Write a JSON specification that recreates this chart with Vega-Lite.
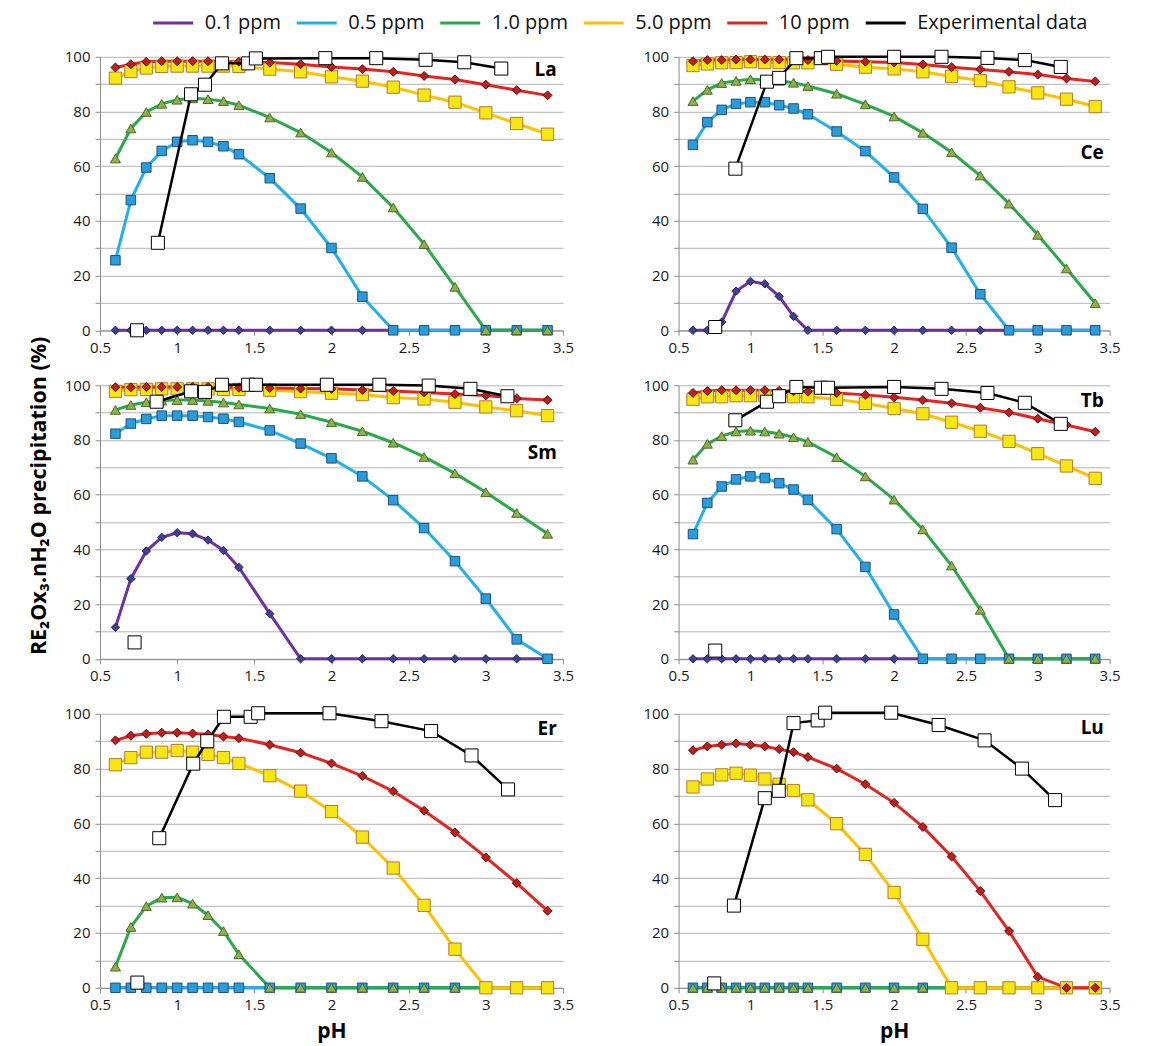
{
"$schema": "https://vega.github.io/schema/vega-lite/v6.json",
"padding": {"left": 28, "top": 9.8, "right": 5, "bottom": 5},
"title": {"text": "RE₂Ox₃.nH₂O precipitation (%)", "orient": "left", "anchor": "middle", "fontSize": 21.5, "fontWeight": "bold", "font": "Open Sans", "color": "#000", "offset": 14, "dx": 30},
"datasets": {
"model": [
{"e":"La","s":"0.1 ppm","x":0.6,"y":0},{"e":"La","s":"0.1 ppm","x":0.7,"y":0},{"e":"La","s":"0.1 ppm","x":0.8,"y":0},{"e":"La","s":"0.1 ppm","x":0.9,"y":0},{"e":"La","s":"0.1 ppm","x":1,"y":0},{"e":"La","s":"0.1 ppm","x":1.1,"y":0},{"e":"La","s":"0.1 ppm","x":1.2,"y":0},{"e":"La","s":"0.1 ppm","x":1.3,"y":0},{"e":"La","s":"0.1 ppm","x":1.4,"y":0},{"e":"La","s":"0.1 ppm","x":1.6,"y":0},{"e":"La","s":"0.1 ppm","x":1.8,"y":0},{"e":"La","s":"0.1 ppm","x":2,"y":0},{"e":"La","s":"0.1 ppm","x":2.2,"y":0},{"e":"La","s":"0.1 ppm","x":2.4,"y":0},{"e":"La","s":"0.1 ppm","x":2.6,"y":0},{"e":"La","s":"0.1 ppm","x":2.8,"y":0},{"e":"La","s":"0.1 ppm","x":3,"y":0},{"e":"La","s":"0.1 ppm","x":3.2,"y":0},{"e":"La","s":"0.1 ppm","x":3.4,"y":0},
{"e":"La","s":"0.5 ppm","x":0.6,"y":25.6},{"e":"La","s":"0.5 ppm","x":0.7,"y":47.6},{"e":"La","s":"0.5 ppm","x":0.8,"y":59.5},{"e":"La","s":"0.5 ppm","x":0.9,"y":65.6},{"e":"La","s":"0.5 ppm","x":1,"y":68.9},{"e":"La","s":"0.5 ppm","x":1.1,"y":69.5},{"e":"La","s":"0.5 ppm","x":1.2,"y":68.9},{"e":"La","s":"0.5 ppm","x":1.3,"y":67.3},{"e":"La","s":"0.5 ppm","x":1.4,"y":64.4},{"e":"La","s":"0.5 ppm","x":1.6,"y":55.6},{"e":"La","s":"0.5 ppm","x":1.8,"y":44.5},{"e":"La","s":"0.5 ppm","x":2,"y":30.1},{"e":"La","s":"0.5 ppm","x":2.2,"y":12.3},{"e":"La","s":"0.5 ppm","x":2.4,"y":0},{"e":"La","s":"0.5 ppm","x":2.6,"y":0},{"e":"La","s":"0.5 ppm","x":2.8,"y":0},{"e":"La","s":"0.5 ppm","x":3,"y":0},{"e":"La","s":"0.5 ppm","x":3.2,"y":0},{"e":"La","s":"0.5 ppm","x":3.4,"y":0},
{"e":"La","s":"1.0 ppm","x":0.6,"y":62.8},{"e":"La","s":"1.0 ppm","x":0.7,"y":73.8},{"e":"La","s":"1.0 ppm","x":0.8,"y":79.8},{"e":"La","s":"1.0 ppm","x":0.9,"y":82.8},{"e":"La","s":"1.0 ppm","x":1,"y":84.3},{"e":"La","s":"1.0 ppm","x":1.1,"y":84.8},{"e":"La","s":"1.0 ppm","x":1.2,"y":84.5},{"e":"La","s":"1.0 ppm","x":1.3,"y":83.8},{"e":"La","s":"1.0 ppm","x":1.4,"y":82.3},{"e":"La","s":"1.0 ppm","x":1.6,"y":77.8},{"e":"La","s":"1.0 ppm","x":1.8,"y":72.3},{"e":"La","s":"1.0 ppm","x":2,"y":65},{"e":"La","s":"1.0 ppm","x":2.2,"y":56.1},{"e":"La","s":"1.0 ppm","x":2.4,"y":44.9},{"e":"La","s":"1.0 ppm","x":2.6,"y":31.5},{"e":"La","s":"1.0 ppm","x":2.8,"y":15.9},{"e":"La","s":"1.0 ppm","x":3,"y":0},{"e":"La","s":"1.0 ppm","x":3.2,"y":0},{"e":"La","s":"1.0 ppm","x":3.4,"y":0},
{"e":"La","s":"5.0 ppm","x":0.6,"y":92.2},{"e":"La","s":"5.0 ppm","x":0.7,"y":94.6},{"e":"La","s":"5.0 ppm","x":0.8,"y":95.9},{"e":"La","s":"5.0 ppm","x":0.9,"y":96.5},{"e":"La","s":"5.0 ppm","x":1,"y":96.6},{"e":"La","s":"5.0 ppm","x":1.1,"y":96.6},{"e":"La","s":"5.0 ppm","x":1.2,"y":96.6},{"e":"La","s":"5.0 ppm","x":1.3,"y":96.6},{"e":"La","s":"5.0 ppm","x":1.4,"y":96.5},{"e":"La","s":"5.0 ppm","x":1.6,"y":95.5},{"e":"La","s":"5.0 ppm","x":1.8,"y":94.5},{"e":"La","s":"5.0 ppm","x":2,"y":92.7},{"e":"La","s":"5.0 ppm","x":2.2,"y":91.1},{"e":"La","s":"5.0 ppm","x":2.4,"y":88.9},{"e":"La","s":"5.0 ppm","x":2.6,"y":86},{"e":"La","s":"5.0 ppm","x":2.8,"y":83.4},{"e":"La","s":"5.0 ppm","x":3,"y":79.5},{"e":"La","s":"5.0 ppm","x":3.2,"y":75.6},{"e":"La","s":"5.0 ppm","x":3.4,"y":71.7},
{"e":"La","s":"10 ppm","x":0.6,"y":96.1},{"e":"La","s":"10 ppm","x":0.7,"y":97.3},{"e":"La","s":"10 ppm","x":0.8,"y":98.2},{"e":"La","s":"10 ppm","x":0.9,"y":98.4},{"e":"La","s":"10 ppm","x":1,"y":98.4},{"e":"La","s":"10 ppm","x":1.1,"y":98.4},{"e":"La","s":"10 ppm","x":1.2,"y":98.4},{"e":"La","s":"10 ppm","x":1.3,"y":98.3},{"e":"La","s":"10 ppm","x":1.4,"y":98.2},{"e":"La","s":"10 ppm","x":1.6,"y":97.9},{"e":"La","s":"10 ppm","x":1.8,"y":97.3},{"e":"La","s":"10 ppm","x":2,"y":96.3},{"e":"La","s":"10 ppm","x":2.2,"y":95.5},{"e":"La","s":"10 ppm","x":2.4,"y":94.5},{"e":"La","s":"10 ppm","x":2.6,"y":93},{"e":"La","s":"10 ppm","x":2.8,"y":91.7},{"e":"La","s":"10 ppm","x":3,"y":89.8},{"e":"La","s":"10 ppm","x":3.2,"y":87.8},{"e":"La","s":"10 ppm","x":3.4,"y":85.9},
{"e":"Ce","s":"0.1 ppm","x":0.6,"y":0},{"e":"Ce","s":"0.1 ppm","x":0.7,"y":0},{"e":"Ce","s":"0.1 ppm","x":0.8,"y":3},{"e":"Ce","s":"0.1 ppm","x":0.9,"y":14.3},{"e":"Ce","s":"0.1 ppm","x":1,"y":17.9},{"e":"Ce","s":"0.1 ppm","x":1.1,"y":17},{"e":"Ce","s":"0.1 ppm","x":1.2,"y":12.4},{"e":"Ce","s":"0.1 ppm","x":1.3,"y":5.1},{"e":"Ce","s":"0.1 ppm","x":1.4,"y":0},{"e":"Ce","s":"0.1 ppm","x":1.6,"y":0},{"e":"Ce","s":"0.1 ppm","x":1.8,"y":0},{"e":"Ce","s":"0.1 ppm","x":2,"y":0},{"e":"Ce","s":"0.1 ppm","x":2.2,"y":0},{"e":"Ce","s":"0.1 ppm","x":2.4,"y":0},{"e":"Ce","s":"0.1 ppm","x":2.6,"y":0},{"e":"Ce","s":"0.1 ppm","x":2.8,"y":0},{"e":"Ce","s":"0.1 ppm","x":3,"y":0},{"e":"Ce","s":"0.1 ppm","x":3.2,"y":0},{"e":"Ce","s":"0.1 ppm","x":3.4,"y":0},
{"e":"Ce","s":"0.5 ppm","x":0.6,"y":67.8},{"e":"Ce","s":"0.5 ppm","x":0.7,"y":76.1},{"e":"Ce","s":"0.5 ppm","x":0.8,"y":80.6},{"e":"Ce","s":"0.5 ppm","x":0.9,"y":82.8},{"e":"Ce","s":"0.5 ppm","x":1,"y":83.4},{"e":"Ce","s":"0.5 ppm","x":1.1,"y":83.4},{"e":"Ce","s":"0.5 ppm","x":1.2,"y":82.3},{"e":"Ce","s":"0.5 ppm","x":1.3,"y":81.1},{"e":"Ce","s":"0.5 ppm","x":1.4,"y":79},{"e":"Ce","s":"0.5 ppm","x":1.6,"y":72.7},{"e":"Ce","s":"0.5 ppm","x":1.8,"y":65.5},{"e":"Ce","s":"0.5 ppm","x":2,"y":55.9},{"e":"Ce","s":"0.5 ppm","x":2.2,"y":44.4},{"e":"Ce","s":"0.5 ppm","x":2.4,"y":30.2},{"e":"Ce","s":"0.5 ppm","x":2.6,"y":13.2},{"e":"Ce","s":"0.5 ppm","x":2.8,"y":0},{"e":"Ce","s":"0.5 ppm","x":3,"y":0},{"e":"Ce","s":"0.5 ppm","x":3.2,"y":0},{"e":"Ce","s":"0.5 ppm","x":3.4,"y":0},
{"e":"Ce","s":"1.0 ppm","x":0.6,"y":83.8},{"e":"Ce","s":"1.0 ppm","x":0.7,"y":87.9},{"e":"Ce","s":"1.0 ppm","x":0.8,"y":90.4},{"e":"Ce","s":"1.0 ppm","x":0.9,"y":91.2},{"e":"Ce","s":"1.0 ppm","x":1,"y":91.8},{"e":"Ce","s":"1.0 ppm","x":1.1,"y":91.5},{"e":"Ce","s":"1.0 ppm","x":1.2,"y":91.2},{"e":"Ce","s":"1.0 ppm","x":1.3,"y":90.5},{"e":"Ce","s":"1.0 ppm","x":1.4,"y":89.3},{"e":"Ce","s":"1.0 ppm","x":1.6,"y":86.5},{"e":"Ce","s":"1.0 ppm","x":1.8,"y":82.6},{"e":"Ce","s":"1.0 ppm","x":2,"y":78.2},{"e":"Ce","s":"1.0 ppm","x":2.2,"y":72.2},{"e":"Ce","s":"1.0 ppm","x":2.4,"y":65.1},{"e":"Ce","s":"1.0 ppm","x":2.6,"y":56.6},{"e":"Ce","s":"1.0 ppm","x":2.8,"y":46.3},{"e":"Ce","s":"1.0 ppm","x":3,"y":34.9},{"e":"Ce","s":"1.0 ppm","x":3.2,"y":22.6},{"e":"Ce","s":"1.0 ppm","x":3.4,"y":9.9},
{"e":"Ce","s":"5.0 ppm","x":0.6,"y":96.8},{"e":"Ce","s":"5.0 ppm","x":0.7,"y":97.4},{"e":"Ce","s":"5.0 ppm","x":0.8,"y":97.8},{"e":"Ce","s":"5.0 ppm","x":0.9,"y":97.9},{"e":"Ce","s":"5.0 ppm","x":1,"y":98.2},{"e":"Ce","s":"5.0 ppm","x":1.1,"y":97.9},{"e":"Ce","s":"5.0 ppm","x":1.2,"y":97.9},{"e":"Ce","s":"5.0 ppm","x":1.3,"y":97.8},{"e":"Ce","s":"5.0 ppm","x":1.4,"y":97.8},{"e":"Ce","s":"5.0 ppm","x":1.6,"y":97.3},{"e":"Ce","s":"5.0 ppm","x":1.8,"y":96.2},{"e":"Ce","s":"5.0 ppm","x":2,"y":95.6},{"e":"Ce","s":"5.0 ppm","x":2.2,"y":94.5},{"e":"Ce","s":"5.0 ppm","x":2.4,"y":92.8},{"e":"Ce","s":"5.0 ppm","x":2.6,"y":91.3},{"e":"Ce","s":"5.0 ppm","x":2.8,"y":89},{"e":"Ce","s":"5.0 ppm","x":3,"y":86.8},{"e":"Ce","s":"5.0 ppm","x":3.2,"y":84.5},{"e":"Ce","s":"5.0 ppm","x":3.4,"y":81.8},
{"e":"Ce","s":"10 ppm","x":0.6,"y":98.4},{"e":"Ce","s":"10 ppm","x":0.7,"y":98.8},{"e":"Ce","s":"10 ppm","x":0.8,"y":98.8},{"e":"Ce","s":"10 ppm","x":0.9,"y":99},{"e":"Ce","s":"10 ppm","x":1,"y":99},{"e":"Ce","s":"10 ppm","x":1.1,"y":99},{"e":"Ce","s":"10 ppm","x":1.2,"y":99},{"e":"Ce","s":"10 ppm","x":1.3,"y":98.9},{"e":"Ce","s":"10 ppm","x":1.4,"y":98.8},{"e":"Ce","s":"10 ppm","x":1.6,"y":98.5},{"e":"Ce","s":"10 ppm","x":1.8,"y":98.2},{"e":"Ce","s":"10 ppm","x":2,"y":97.9},{"e":"Ce","s":"10 ppm","x":2.2,"y":97.2},{"e":"Ce","s":"10 ppm","x":2.4,"y":96.2},{"e":"Ce","s":"10 ppm","x":2.6,"y":95.4},{"e":"Ce","s":"10 ppm","x":2.8,"y":94.5},{"e":"Ce","s":"10 ppm","x":3,"y":93.5},{"e":"Ce","s":"10 ppm","x":3.2,"y":92.1},{"e":"Ce","s":"10 ppm","x":3.4,"y":91},
{"e":"Sm","s":"0.1 ppm","x":0.6,"y":11.5},{"e":"Sm","s":"0.1 ppm","x":0.7,"y":29.3},{"e":"Sm","s":"0.1 ppm","x":0.8,"y":39.4},{"e":"Sm","s":"0.1 ppm","x":0.9,"y":44.4},{"e":"Sm","s":"0.1 ppm","x":1,"y":46.1},{"e":"Sm","s":"0.1 ppm","x":1.1,"y":45.7},{"e":"Sm","s":"0.1 ppm","x":1.2,"y":43.4},{"e":"Sm","s":"0.1 ppm","x":1.3,"y":39.6},{"e":"Sm","s":"0.1 ppm","x":1.4,"y":33.4},{"e":"Sm","s":"0.1 ppm","x":1.6,"y":16.5},{"e":"Sm","s":"0.1 ppm","x":1.8,"y":0},{"e":"Sm","s":"0.1 ppm","x":2,"y":0},{"e":"Sm","s":"0.1 ppm","x":2.2,"y":0},{"e":"Sm","s":"0.1 ppm","x":2.4,"y":0},{"e":"Sm","s":"0.1 ppm","x":2.6,"y":0},{"e":"Sm","s":"0.1 ppm","x":2.8,"y":0},{"e":"Sm","s":"0.1 ppm","x":3,"y":0},{"e":"Sm","s":"0.1 ppm","x":3.2,"y":0},{"e":"Sm","s":"0.1 ppm","x":3.4,"y":0},
{"e":"Sm","s":"0.5 ppm","x":0.6,"y":82.3},{"e":"Sm","s":"0.5 ppm","x":0.7,"y":86},{"e":"Sm","s":"0.5 ppm","x":0.8,"y":87.7},{"e":"Sm","s":"0.5 ppm","x":0.9,"y":88.9},{"e":"Sm","s":"0.5 ppm","x":1,"y":88.9},{"e":"Sm","s":"0.5 ppm","x":1.1,"y":88.9},{"e":"Sm","s":"0.5 ppm","x":1.2,"y":88.4},{"e":"Sm","s":"0.5 ppm","x":1.3,"y":87.8},{"e":"Sm","s":"0.5 ppm","x":1.4,"y":86.6},{"e":"Sm","s":"0.5 ppm","x":1.6,"y":83.5},{"e":"Sm","s":"0.5 ppm","x":1.8,"y":78.7},{"e":"Sm","s":"0.5 ppm","x":2,"y":73.3},{"e":"Sm","s":"0.5 ppm","x":2.2,"y":66.7},{"e":"Sm","s":"0.5 ppm","x":2.4,"y":58},{"e":"Sm","s":"0.5 ppm","x":2.6,"y":47.8},{"e":"Sm","s":"0.5 ppm","x":2.8,"y":35.7},{"e":"Sm","s":"0.5 ppm","x":3,"y":22},{"e":"Sm","s":"0.5 ppm","x":3.2,"y":7.1},{"e":"Sm","s":"0.5 ppm","x":3.4,"y":0},
{"e":"Sm","s":"1.0 ppm","x":0.6,"y":91},{"e":"Sm","s":"1.0 ppm","x":0.7,"y":92.8},{"e":"Sm","s":"1.0 ppm","x":0.8,"y":93.8},{"e":"Sm","s":"1.0 ppm","x":0.9,"y":94.4},{"e":"Sm","s":"1.0 ppm","x":1,"y":94.6},{"e":"Sm","s":"1.0 ppm","x":1.1,"y":94.6},{"e":"Sm","s":"1.0 ppm","x":1.2,"y":94.3},{"e":"Sm","s":"1.0 ppm","x":1.3,"y":93.7},{"e":"Sm","s":"1.0 ppm","x":1.4,"y":93},{"e":"Sm","s":"1.0 ppm","x":1.6,"y":91.5},{"e":"Sm","s":"1.0 ppm","x":1.8,"y":89.4},{"e":"Sm","s":"1.0 ppm","x":2,"y":86.5},{"e":"Sm","s":"1.0 ppm","x":2.2,"y":83.2},{"e":"Sm","s":"1.0 ppm","x":2.4,"y":79},{"e":"Sm","s":"1.0 ppm","x":2.6,"y":73.8},{"e":"Sm","s":"1.0 ppm","x":2.8,"y":67.8},{"e":"Sm","s":"1.0 ppm","x":3,"y":60.9},{"e":"Sm","s":"1.0 ppm","x":3.2,"y":53.3},{"e":"Sm","s":"1.0 ppm","x":3.4,"y":45.7},
{"e":"Sm","s":"5.0 ppm","x":0.6,"y":97.8},{"e":"Sm","s":"5.0 ppm","x":0.7,"y":98.4},{"e":"Sm","s":"5.0 ppm","x":0.8,"y":98.5},{"e":"Sm","s":"5.0 ppm","x":0.9,"y":98.7},{"e":"Sm","s":"5.0 ppm","x":1,"y":98.7},{"e":"Sm","s":"5.0 ppm","x":1.1,"y":98.7},{"e":"Sm","s":"5.0 ppm","x":1.2,"y":98.7},{"e":"Sm","s":"5.0 ppm","x":1.3,"y":98.5},{"e":"Sm","s":"5.0 ppm","x":1.4,"y":98.5},{"e":"Sm","s":"5.0 ppm","x":1.6,"y":98.2},{"e":"Sm","s":"5.0 ppm","x":1.8,"y":97.7},{"e":"Sm","s":"5.0 ppm","x":2,"y":97.1},{"e":"Sm","s":"5.0 ppm","x":2.2,"y":96.6},{"e":"Sm","s":"5.0 ppm","x":2.4,"y":95.5},{"e":"Sm","s":"5.0 ppm","x":2.6,"y":95},{"e":"Sm","s":"5.0 ppm","x":2.8,"y":93.8},{"e":"Sm","s":"5.0 ppm","x":3,"y":92.1},{"e":"Sm","s":"5.0 ppm","x":3.2,"y":90.7},{"e":"Sm","s":"5.0 ppm","x":3.4,"y":88.9},
{"e":"Sm","s":"10 ppm","x":0.6,"y":99.3},{"e":"Sm","s":"10 ppm","x":0.7,"y":99.3},{"e":"Sm","s":"10 ppm","x":0.8,"y":99.4},{"e":"Sm","s":"10 ppm","x":0.9,"y":99.4},{"e":"Sm","s":"10 ppm","x":1,"y":99.4},{"e":"Sm","s":"10 ppm","x":1.1,"y":99.4},{"e":"Sm","s":"10 ppm","x":1.2,"y":99.4},{"e":"Sm","s":"10 ppm","x":1.3,"y":99.3},{"e":"Sm","s":"10 ppm","x":1.4,"y":99.1},{"e":"Sm","s":"10 ppm","x":1.6,"y":99},{"e":"Sm","s":"10 ppm","x":1.8,"y":98.8},{"e":"Sm","s":"10 ppm","x":2,"y":98.7},{"e":"Sm","s":"10 ppm","x":2.2,"y":98.3},{"e":"Sm","s":"10 ppm","x":2.4,"y":97.9},{"e":"Sm","s":"10 ppm","x":2.6,"y":97.4},{"e":"Sm","s":"10 ppm","x":2.8,"y":96.8},{"e":"Sm","s":"10 ppm","x":3,"y":96.3},{"e":"Sm","s":"10 ppm","x":3.2,"y":95.2},{"e":"Sm","s":"10 ppm","x":3.4,"y":94.6},
{"e":"Tb","s":"0.1 ppm","x":0.6,"y":0},{"e":"Tb","s":"0.1 ppm","x":0.7,"y":0},{"e":"Tb","s":"0.1 ppm","x":0.8,"y":0},{"e":"Tb","s":"0.1 ppm","x":0.9,"y":0},{"e":"Tb","s":"0.1 ppm","x":1,"y":0},{"e":"Tb","s":"0.1 ppm","x":1.1,"y":0},{"e":"Tb","s":"0.1 ppm","x":1.2,"y":0},{"e":"Tb","s":"0.1 ppm","x":1.3,"y":0},{"e":"Tb","s":"0.1 ppm","x":1.4,"y":0},{"e":"Tb","s":"0.1 ppm","x":1.6,"y":0},{"e":"Tb","s":"0.1 ppm","x":1.8,"y":0},{"e":"Tb","s":"0.1 ppm","x":2,"y":0},{"e":"Tb","s":"0.1 ppm","x":2.2,"y":0},{"e":"Tb","s":"0.1 ppm","x":2.4,"y":0},{"e":"Tb","s":"0.1 ppm","x":2.6,"y":0},{"e":"Tb","s":"0.1 ppm","x":2.8,"y":0},{"e":"Tb","s":"0.1 ppm","x":3,"y":0},{"e":"Tb","s":"0.1 ppm","x":3.2,"y":0},{"e":"Tb","s":"0.1 ppm","x":3.4,"y":0},
{"e":"Tb","s":"0.5 ppm","x":0.6,"y":45.6},{"e":"Tb","s":"0.5 ppm","x":0.7,"y":57},{"e":"Tb","s":"0.5 ppm","x":0.8,"y":63},{"e":"Tb","s":"0.5 ppm","x":0.9,"y":65.6},{"e":"Tb","s":"0.5 ppm","x":1,"y":66.7},{"e":"Tb","s":"0.5 ppm","x":1.1,"y":66.1},{"e":"Tb","s":"0.5 ppm","x":1.2,"y":64.2},{"e":"Tb","s":"0.5 ppm","x":1.3,"y":61.9},{"e":"Tb","s":"0.5 ppm","x":1.4,"y":58.1},{"e":"Tb","s":"0.5 ppm","x":1.6,"y":47.4},{"e":"Tb","s":"0.5 ppm","x":1.8,"y":33.6},{"e":"Tb","s":"0.5 ppm","x":2,"y":16.2},{"e":"Tb","s":"0.5 ppm","x":2.2,"y":0},{"e":"Tb","s":"0.5 ppm","x":2.4,"y":0},{"e":"Tb","s":"0.5 ppm","x":2.6,"y":0},{"e":"Tb","s":"0.5 ppm","x":2.8,"y":0},{"e":"Tb","s":"0.5 ppm","x":3,"y":0},{"e":"Tb","s":"0.5 ppm","x":3.2,"y":0},{"e":"Tb","s":"0.5 ppm","x":3.4,"y":0},
{"e":"Tb","s":"1.0 ppm","x":0.6,"y":72.8},{"e":"Tb","s":"1.0 ppm","x":0.7,"y":78.6},{"e":"Tb","s":"1.0 ppm","x":0.8,"y":81.4},{"e":"Tb","s":"1.0 ppm","x":0.9,"y":83.1},{"e":"Tb","s":"1.0 ppm","x":1,"y":83.4},{"e":"Tb","s":"1.0 ppm","x":1.1,"y":83.1},{"e":"Tb","s":"1.0 ppm","x":1.2,"y":82.3},{"e":"Tb","s":"1.0 ppm","x":1.3,"y":81},{"e":"Tb","s":"1.0 ppm","x":1.4,"y":79.3},{"e":"Tb","s":"1.0 ppm","x":1.6,"y":73.7},{"e":"Tb","s":"1.0 ppm","x":1.8,"y":66.7},{"e":"Tb","s":"1.0 ppm","x":2,"y":58.2},{"e":"Tb","s":"1.0 ppm","x":2.2,"y":47.3},{"e":"Tb","s":"1.0 ppm","x":2.4,"y":34.1},{"e":"Tb","s":"1.0 ppm","x":2.6,"y":17.9},{"e":"Tb","s":"1.0 ppm","x":2.8,"y":0},{"e":"Tb","s":"1.0 ppm","x":3,"y":0},{"e":"Tb","s":"1.0 ppm","x":3.2,"y":0},{"e":"Tb","s":"1.0 ppm","x":3.4,"y":0},
{"e":"Tb","s":"5.0 ppm","x":0.6,"y":94.9},{"e":"Tb","s":"5.0 ppm","x":0.7,"y":95.8},{"e":"Tb","s":"5.0 ppm","x":0.8,"y":95.8},{"e":"Tb","s":"5.0 ppm","x":0.9,"y":96.2},{"e":"Tb","s":"5.0 ppm","x":1,"y":96.2},{"e":"Tb","s":"5.0 ppm","x":1.1,"y":96.2},{"e":"Tb","s":"5.0 ppm","x":1.2,"y":95.9},{"e":"Tb","s":"5.0 ppm","x":1.3,"y":95.8},{"e":"Tb","s":"5.0 ppm","x":1.4,"y":95.8},{"e":"Tb","s":"5.0 ppm","x":1.6,"y":94.9},{"e":"Tb","s":"5.0 ppm","x":1.8,"y":93.4},{"e":"Tb","s":"5.0 ppm","x":2,"y":91.5},{"e":"Tb","s":"5.0 ppm","x":2.2,"y":89.6},{"e":"Tb","s":"5.0 ppm","x":2.4,"y":86.5},{"e":"Tb","s":"5.0 ppm","x":2.6,"y":83.2},{"e":"Tb","s":"5.0 ppm","x":2.8,"y":79.5},{"e":"Tb","s":"5.0 ppm","x":3,"y":75},{"e":"Tb","s":"5.0 ppm","x":3.2,"y":70.5},{"e":"Tb","s":"5.0 ppm","x":3.4,"y":66},
{"e":"Tb","s":"10 ppm","x":0.6,"y":97.2},{"e":"Tb","s":"10 ppm","x":0.7,"y":97.9},{"e":"Tb","s":"10 ppm","x":0.8,"y":98.2},{"e":"Tb","s":"10 ppm","x":0.9,"y":98.2},{"e":"Tb","s":"10 ppm","x":1,"y":98.2},{"e":"Tb","s":"10 ppm","x":1.1,"y":98.2},{"e":"Tb","s":"10 ppm","x":1.2,"y":98},{"e":"Tb","s":"10 ppm","x":1.3,"y":97.8},{"e":"Tb","s":"10 ppm","x":1.4,"y":97.7},{"e":"Tb","s":"10 ppm","x":1.6,"y":97.2},{"e":"Tb","s":"10 ppm","x":1.8,"y":96.5},{"e":"Tb","s":"10 ppm","x":2,"y":95.6},{"e":"Tb","s":"10 ppm","x":2.2,"y":94.6},{"e":"Tb","s":"10 ppm","x":2.4,"y":93.4},{"e":"Tb","s":"10 ppm","x":2.6,"y":91.8},{"e":"Tb","s":"10 ppm","x":2.8,"y":90.1},{"e":"Tb","s":"10 ppm","x":3,"y":87.8},{"e":"Tb","s":"10 ppm","x":3.2,"y":85.5},{"e":"Tb","s":"10 ppm","x":3.4,"y":83},
{"e":"Er","s":"0.1 ppm","x":0.6,"y":0},{"e":"Er","s":"0.1 ppm","x":0.7,"y":0},{"e":"Er","s":"0.1 ppm","x":0.8,"y":0},{"e":"Er","s":"0.1 ppm","x":0.9,"y":0},{"e":"Er","s":"0.1 ppm","x":1,"y":0},{"e":"Er","s":"0.1 ppm","x":1.1,"y":0},{"e":"Er","s":"0.1 ppm","x":1.2,"y":0},{"e":"Er","s":"0.1 ppm","x":1.3,"y":0},{"e":"Er","s":"0.1 ppm","x":1.4,"y":0},{"e":"Er","s":"0.1 ppm","x":1.6,"y":0},{"e":"Er","s":"0.1 ppm","x":1.8,"y":0},{"e":"Er","s":"0.1 ppm","x":2,"y":0},{"e":"Er","s":"0.1 ppm","x":2.2,"y":0},{"e":"Er","s":"0.1 ppm","x":2.4,"y":0},{"e":"Er","s":"0.1 ppm","x":2.6,"y":0},{"e":"Er","s":"0.1 ppm","x":2.8,"y":0},{"e":"Er","s":"0.1 ppm","x":3,"y":0},{"e":"Er","s":"0.1 ppm","x":3.2,"y":0},{"e":"Er","s":"0.1 ppm","x":3.4,"y":0},
{"e":"Er","s":"0.5 ppm","x":0.6,"y":0},{"e":"Er","s":"0.5 ppm","x":0.7,"y":0},{"e":"Er","s":"0.5 ppm","x":0.8,"y":0},{"e":"Er","s":"0.5 ppm","x":0.9,"y":0},{"e":"Er","s":"0.5 ppm","x":1,"y":0},{"e":"Er","s":"0.5 ppm","x":1.1,"y":0},{"e":"Er","s":"0.5 ppm","x":1.2,"y":0},{"e":"Er","s":"0.5 ppm","x":1.3,"y":0},{"e":"Er","s":"0.5 ppm","x":1.4,"y":0},{"e":"Er","s":"0.5 ppm","x":1.6,"y":0},{"e":"Er","s":"0.5 ppm","x":1.8,"y":0},{"e":"Er","s":"0.5 ppm","x":2,"y":0},{"e":"Er","s":"0.5 ppm","x":2.2,"y":0},{"e":"Er","s":"0.5 ppm","x":2.4,"y":0},{"e":"Er","s":"0.5 ppm","x":2.6,"y":0},{"e":"Er","s":"0.5 ppm","x":2.8,"y":0},{"e":"Er","s":"0.5 ppm","x":3,"y":0},{"e":"Er","s":"0.5 ppm","x":3.2,"y":0},{"e":"Er","s":"0.5 ppm","x":3.4,"y":0},
{"e":"Er","s":"1.0 ppm","x":0.6,"y":7.7},{"e":"Er","s":"1.0 ppm","x":0.7,"y":22.2},{"e":"Er","s":"1.0 ppm","x":0.8,"y":29.8},{"e":"Er","s":"1.0 ppm","x":0.9,"y":32.9},{"e":"Er","s":"1.0 ppm","x":1,"y":33},{"e":"Er","s":"1.0 ppm","x":1.1,"y":30.7},{"e":"Er","s":"1.0 ppm","x":1.2,"y":26.5},{"e":"Er","s":"1.0 ppm","x":1.3,"y":20.7},{"e":"Er","s":"1.0 ppm","x":1.4,"y":12.2},{"e":"Er","s":"1.0 ppm","x":1.6,"y":0},{"e":"Er","s":"1.0 ppm","x":1.8,"y":0},{"e":"Er","s":"1.0 ppm","x":2,"y":0},{"e":"Er","s":"1.0 ppm","x":2.2,"y":0},{"e":"Er","s":"1.0 ppm","x":2.4,"y":0},{"e":"Er","s":"1.0 ppm","x":2.6,"y":0},{"e":"Er","s":"1.0 ppm","x":2.8,"y":0},{"e":"Er","s":"1.0 ppm","x":3,"y":0},{"e":"Er","s":"1.0 ppm","x":3.2,"y":0},{"e":"Er","s":"1.0 ppm","x":3.4,"y":0},
{"e":"Er","s":"5.0 ppm","x":0.6,"y":81.4},{"e":"Er","s":"5.0 ppm","x":0.7,"y":84},{"e":"Er","s":"5.0 ppm","x":0.8,"y":86},{"e":"Er","s":"5.0 ppm","x":0.9,"y":86},{"e":"Er","s":"5.0 ppm","x":1,"y":86.6},{"e":"Er","s":"5.0 ppm","x":1.1,"y":86},{"e":"Er","s":"5.0 ppm","x":1.2,"y":85.2},{"e":"Er","s":"5.0 ppm","x":1.3,"y":84},{"e":"Er","s":"5.0 ppm","x":1.4,"y":81.9},{"e":"Er","s":"5.0 ppm","x":1.6,"y":77.4},{"e":"Er","s":"5.0 ppm","x":1.8,"y":71.8},{"e":"Er","s":"5.0 ppm","x":2,"y":64.3},{"e":"Er","s":"5.0 ppm","x":2.2,"y":55},{"e":"Er","s":"5.0 ppm","x":2.4,"y":43.7},{"e":"Er","s":"5.0 ppm","x":2.6,"y":30.1},{"e":"Er","s":"5.0 ppm","x":2.8,"y":14.1},{"e":"Er","s":"5.0 ppm","x":3,"y":0},{"e":"Er","s":"5.0 ppm","x":3.2,"y":0},{"e":"Er","s":"5.0 ppm","x":3.4,"y":0},
{"e":"Er","s":"10 ppm","x":0.6,"y":90.3},{"e":"Er","s":"10 ppm","x":0.7,"y":92},{"e":"Er","s":"10 ppm","x":0.8,"y":92.7},{"e":"Er","s":"10 ppm","x":0.9,"y":93.1},{"e":"Er","s":"10 ppm","x":1,"y":93.1},{"e":"Er","s":"10 ppm","x":1.1,"y":92.8},{"e":"Er","s":"10 ppm","x":1.2,"y":92.5},{"e":"Er","s":"10 ppm","x":1.3,"y":91.7},{"e":"Er","s":"10 ppm","x":1.4,"y":91.1},{"e":"Er","s":"10 ppm","x":1.6,"y":88.7},{"e":"Er","s":"10 ppm","x":1.8,"y":85.8},{"e":"Er","s":"10 ppm","x":2,"y":81.9},{"e":"Er","s":"10 ppm","x":2.2,"y":77.3},{"e":"Er","s":"10 ppm","x":2.4,"y":71.7},{"e":"Er","s":"10 ppm","x":2.6,"y":64.6},{"e":"Er","s":"10 ppm","x":2.8,"y":56.7},{"e":"Er","s":"10 ppm","x":3,"y":47.6},{"e":"Er","s":"10 ppm","x":3.2,"y":38.2},{"e":"Er","s":"10 ppm","x":3.4,"y":28.1},
{"e":"Lu","s":"0.1 ppm","x":0.6,"y":0},{"e":"Lu","s":"0.1 ppm","x":0.7,"y":0},{"e":"Lu","s":"0.1 ppm","x":0.8,"y":0},{"e":"Lu","s":"0.1 ppm","x":0.9,"y":0},{"e":"Lu","s":"0.1 ppm","x":1,"y":0},{"e":"Lu","s":"0.1 ppm","x":1.1,"y":0},{"e":"Lu","s":"0.1 ppm","x":1.2,"y":0},{"e":"Lu","s":"0.1 ppm","x":1.3,"y":0},{"e":"Lu","s":"0.1 ppm","x":1.4,"y":0},{"e":"Lu","s":"0.1 ppm","x":1.6,"y":0},{"e":"Lu","s":"0.1 ppm","x":1.8,"y":0},{"e":"Lu","s":"0.1 ppm","x":2,"y":0},{"e":"Lu","s":"0.1 ppm","x":2.2,"y":0},{"e":"Lu","s":"0.1 ppm","x":2.4,"y":0},{"e":"Lu","s":"0.1 ppm","x":2.6,"y":0},{"e":"Lu","s":"0.1 ppm","x":2.8,"y":0},{"e":"Lu","s":"0.1 ppm","x":3,"y":0},{"e":"Lu","s":"0.1 ppm","x":3.2,"y":0},{"e":"Lu","s":"0.1 ppm","x":3.4,"y":0},
{"e":"Lu","s":"0.5 ppm","x":0.6,"y":0},{"e":"Lu","s":"0.5 ppm","x":0.7,"y":0},{"e":"Lu","s":"0.5 ppm","x":0.8,"y":0},{"e":"Lu","s":"0.5 ppm","x":0.9,"y":0},{"e":"Lu","s":"0.5 ppm","x":1,"y":0},{"e":"Lu","s":"0.5 ppm","x":1.1,"y":0},{"e":"Lu","s":"0.5 ppm","x":1.2,"y":0},{"e":"Lu","s":"0.5 ppm","x":1.3,"y":0},{"e":"Lu","s":"0.5 ppm","x":1.4,"y":0},{"e":"Lu","s":"0.5 ppm","x":1.6,"y":0},{"e":"Lu","s":"0.5 ppm","x":1.8,"y":0},{"e":"Lu","s":"0.5 ppm","x":2,"y":0},{"e":"Lu","s":"0.5 ppm","x":2.2,"y":0},{"e":"Lu","s":"0.5 ppm","x":2.4,"y":0},{"e":"Lu","s":"0.5 ppm","x":2.6,"y":0},{"e":"Lu","s":"0.5 ppm","x":2.8,"y":0},{"e":"Lu","s":"0.5 ppm","x":3,"y":0},{"e":"Lu","s":"0.5 ppm","x":3.2,"y":0},{"e":"Lu","s":"0.5 ppm","x":3.4,"y":0},
{"e":"Lu","s":"1.0 ppm","x":0.6,"y":0},{"e":"Lu","s":"1.0 ppm","x":0.7,"y":0},{"e":"Lu","s":"1.0 ppm","x":0.8,"y":0},{"e":"Lu","s":"1.0 ppm","x":0.9,"y":0},{"e":"Lu","s":"1.0 ppm","x":1,"y":0},{"e":"Lu","s":"1.0 ppm","x":1.1,"y":0},{"e":"Lu","s":"1.0 ppm","x":1.2,"y":0},{"e":"Lu","s":"1.0 ppm","x":1.3,"y":0},{"e":"Lu","s":"1.0 ppm","x":1.4,"y":0},{"e":"Lu","s":"1.0 ppm","x":1.6,"y":0},{"e":"Lu","s":"1.0 ppm","x":1.8,"y":0},{"e":"Lu","s":"1.0 ppm","x":2,"y":0},{"e":"Lu","s":"1.0 ppm","x":2.2,"y":0},{"e":"Lu","s":"1.0 ppm","x":2.4,"y":0},{"e":"Lu","s":"1.0 ppm","x":2.6,"y":0},{"e":"Lu","s":"1.0 ppm","x":2.8,"y":0},{"e":"Lu","s":"1.0 ppm","x":3,"y":0},{"e":"Lu","s":"1.0 ppm","x":3.2,"y":0},{"e":"Lu","s":"1.0 ppm","x":3.4,"y":0},
{"e":"Lu","s":"5.0 ppm","x":0.6,"y":73.3},{"e":"Lu","s":"5.0 ppm","x":0.7,"y":76.2},{"e":"Lu","s":"5.0 ppm","x":0.8,"y":77.7},{"e":"Lu","s":"5.0 ppm","x":0.9,"y":78.3},{"e":"Lu","s":"5.0 ppm","x":1,"y":77.6},{"e":"Lu","s":"5.0 ppm","x":1.1,"y":76.2},{"e":"Lu","s":"5.0 ppm","x":1.2,"y":74.3},{"e":"Lu","s":"5.0 ppm","x":1.3,"y":72},{"e":"Lu","s":"5.0 ppm","x":1.4,"y":68.6},{"e":"Lu","s":"5.0 ppm","x":1.6,"y":59.9},{"e":"Lu","s":"5.0 ppm","x":1.8,"y":48.7},{"e":"Lu","s":"5.0 ppm","x":2,"y":34.8},{"e":"Lu","s":"5.0 ppm","x":2.2,"y":17.7},{"e":"Lu","s":"5.0 ppm","x":2.4,"y":0},{"e":"Lu","s":"5.0 ppm","x":2.6,"y":0},{"e":"Lu","s":"5.0 ppm","x":2.8,"y":0},{"e":"Lu","s":"5.0 ppm","x":3,"y":0},{"e":"Lu","s":"5.0 ppm","x":3.2,"y":0},{"e":"Lu","s":"5.0 ppm","x":3.4,"y":0},
{"e":"Lu","s":"10 ppm","x":0.6,"y":86.7},{"e":"Lu","s":"10 ppm","x":0.7,"y":88.1},{"e":"Lu","s":"10 ppm","x":0.8,"y":88.7},{"e":"Lu","s":"10 ppm","x":0.9,"y":89.2},{"e":"Lu","s":"10 ppm","x":1,"y":88.7},{"e":"Lu","s":"10 ppm","x":1.1,"y":88.1},{"e":"Lu","s":"10 ppm","x":1.2,"y":87.1},{"e":"Lu","s":"10 ppm","x":1.3,"y":86},{"e":"Lu","s":"10 ppm","x":1.4,"y":84.2},{"e":"Lu","s":"10 ppm","x":1.6,"y":80},{"e":"Lu","s":"10 ppm","x":1.8,"y":74.3},{"e":"Lu","s":"10 ppm","x":2,"y":67.5},{"e":"Lu","s":"10 ppm","x":2.2,"y":58.7},{"e":"Lu","s":"10 ppm","x":2.4,"y":47.9},{"e":"Lu","s":"10 ppm","x":2.6,"y":35.3},{"e":"Lu","s":"10 ppm","x":2.8,"y":20.7},{"e":"Lu","s":"10 ppm","x":3,"y":4},{"e":"Lu","s":"10 ppm","x":3.2,"y":0},{"e":"Lu","s":"10 ppm","x":3.4,"y":0}
],
"exp": [
{"e":"La","s":"Experimental data","g":1,"x":0.74,"y":0},{"e":"La","s":"Experimental data","g":2,"x":0.875,"y":32},{"e":"La","s":"Experimental data","g":2,"x":1.09,"y":86.3},{"e":"La","s":"Experimental data","g":2,"x":1.18,"y":89.8},{"e":"La","s":"Experimental data","g":2,"x":1.29,"y":97.6},{"e":"La","s":"Experimental data","g":2,"x":1.46,"y":97.6},{"e":"La","s":"Experimental data","g":2,"x":1.51,"y":99.4},{"e":"La","s":"Experimental data","g":2,"x":1.96,"y":99.5},{"e":"La","s":"Experimental data","g":2,"x":2.29,"y":99.5},{"e":"La","s":"Experimental data","g":2,"x":2.61,"y":98.9},{"e":"La","s":"Experimental data","g":2,"x":2.86,"y":98},{"e":"La","s":"Experimental data","g":2,"x":3.1,"y":95.7},
{"e":"Ce","s":"Experimental data","g":1,"x":0.755,"y":1.2},{"e":"Ce","s":"Experimental data","g":2,"x":0.895,"y":59.1},{"e":"Ce","s":"Experimental data","g":2,"x":1.115,"y":90.9},{"e":"Ce","s":"Experimental data","g":2,"x":1.2,"y":92.3},{"e":"Ce","s":"Experimental data","g":2,"x":1.32,"y":99.5},{"e":"Ce","s":"Experimental data","g":2,"x":1.49,"y":99.5},{"e":"Ce","s":"Experimental data","g":2,"x":1.54,"y":100},{"e":"Ce","s":"Experimental data","g":2,"x":2,"y":100},{"e":"Ce","s":"Experimental data","g":2,"x":2.33,"y":100},{"e":"Ce","s":"Experimental data","g":2,"x":2.65,"y":99.6},{"e":"Ce","s":"Experimental data","g":2,"x":2.91,"y":98.8},{"e":"Ce","s":"Experimental data","g":2,"x":3.16,"y":96.3},
{"e":"Sm","s":"Experimental data","g":1,"x":0.724,"y":6},{"e":"Sm","s":"Experimental data","g":2,"x":0.867,"y":94},{"e":"Sm","s":"Experimental data","g":2,"x":1.09,"y":97.8},{"e":"Sm","s":"Experimental data","g":2,"x":1.18,"y":97.6},{"e":"Sm","s":"Experimental data","g":2,"x":1.29,"y":100.2},{"e":"Sm","s":"Experimental data","g":2,"x":1.46,"y":100.2},{"e":"Sm","s":"Experimental data","g":2,"x":1.51,"y":100.2},{"e":"Sm","s":"Experimental data","g":2,"x":1.97,"y":100.2},{"e":"Sm","s":"Experimental data","g":2,"x":2.31,"y":100.2},{"e":"Sm","s":"Experimental data","g":2,"x":2.63,"y":99.9},{"e":"Sm","s":"Experimental data","g":2,"x":2.9,"y":98.7},{"e":"Sm","s":"Experimental data","g":2,"x":3.14,"y":96},
{"e":"Tb","s":"Experimental data","g":1,"x":0.755,"y":3},{"e":"Tb","s":"Experimental data","g":2,"x":0.895,"y":87.2},{"e":"Tb","s":"Experimental data","g":2,"x":1.115,"y":94},{"e":"Tb","s":"Experimental data","g":2,"x":1.2,"y":96},{"e":"Tb","s":"Experimental data","g":2,"x":1.32,"y":99.4},{"e":"Tb","s":"Experimental data","g":2,"x":1.49,"y":99.1},{"e":"Tb","s":"Experimental data","g":2,"x":1.54,"y":99.1},{"e":"Tb","s":"Experimental data","g":2,"x":2,"y":99.4},{"e":"Tb","s":"Experimental data","g":2,"x":2.33,"y":98.7},{"e":"Tb","s":"Experimental data","g":2,"x":2.65,"y":97.2},{"e":"Tb","s":"Experimental data","g":2,"x":2.91,"y":93.6},{"e":"Tb","s":"Experimental data","g":2,"x":3.16,"y":85.9},
{"e":"Er","s":"Experimental data","g":1,"x":0.742,"y":1.9},{"e":"Er","s":"Experimental data","g":2,"x":0.884,"y":54.6},{"e":"Er","s":"Experimental data","g":2,"x":1.104,"y":81.8},{"e":"Er","s":"Experimental data","g":2,"x":1.195,"y":90},{"e":"Er","s":"Experimental data","g":2,"x":1.303,"y":98.9},{"e":"Er","s":"Experimental data","g":2,"x":1.476,"y":98.9},{"e":"Er","s":"Experimental data","g":2,"x":1.525,"y":100.2},{"e":"Er","s":"Experimental data","g":2,"x":1.987,"y":100.2},{"e":"Er","s":"Experimental data","g":2,"x":2.324,"y":97.3},{"e":"Er","s":"Experimental data","g":2,"x":2.645,"y":93.7},{"e":"Er","s":"Experimental data","g":2,"x":2.907,"y":84.8},{"e":"Er","s":"Experimental data","g":2,"x":3.144,"y":72.4},
{"e":"Lu","s":"Experimental data","g":1,"x":0.748,"y":1.6},{"e":"Lu","s":"Experimental data","g":2,"x":0.885,"y":30},{"e":"Lu","s":"Experimental data","g":2,"x":1.1,"y":69.2},{"e":"Lu","s":"Experimental data","g":2,"x":1.197,"y":71.9},{"e":"Lu","s":"Experimental data","g":2,"x":1.3,"y":96.6},{"e":"Lu","s":"Experimental data","g":2,"x":1.468,"y":97.6},{"e":"Lu","s":"Experimental data","g":2,"x":1.52,"y":100.4},{"e":"Lu","s":"Experimental data","g":2,"x":1.98,"y":100.4},{"e":"Lu","s":"Experimental data","g":2,"x":2.31,"y":95.9},{"e":"Lu","s":"Experimental data","g":2,"x":2.63,"y":90.3},{"e":"Lu","s":"Experimental data","g":2,"x":2.89,"y":80},{"e":"Lu","s":"Experimental data","g":2,"x":3.12,"y":68.5}
],
"lab": [
{"e":"La","x":3.46,"y":95},{"e":"Ce","x":3.46,"y":64.8},{"e":"Sm","x":3.46,"y":75.2},{"e":"Tb","x":3.46,"y":94.3},{"e":"Er","x":3.46,"y":94.5},{"e":"Lu","x":3.46,"y":94.7}
]
},
"columns": 2,
"bounds": "flush",
"align": "each",
"spacing": {"row": 54.5, "column": 115.6},
"concat": [
{"width": 463, "height": 273.5,
 "encoding": {"x": {"field":"x","type":"quantitative","scale":{"domain":[0.5,3.5],"nice":false,"zero":false},"axis":{"values":[0.5,1,1.5,2,2.5,3,3.5],"format":"~g","title":null}},
  "y": {"field":"y","type":"quantitative","scale":{"domain":[0,100],"nice":false},"axis":{"values":[0,10,20,30,40,50,60,70,80,90,100],"labelExpr":"datum.value % 20 === 0 ? datum.label : ''","title":null}}},
 "layer": [
  {"data":{"name":"model"},"transform":[{"filter":"datum.e === 'La'"}],"mark":{"type":"line","strokeWidth":3},
   "encoding":{"color":{"field":"s","type":"nominal","scale":{"domain":["0.1 ppm","0.5 ppm","1.0 ppm","5.0 ppm","10 ppm","Experimental data","-"],"range":["#7030A0","#22B0EA","#2BA84A","#FFC000","#E52421","#000000","#999999"]},
     "legend":{"values":["0.1 ppm","0.5 ppm","1.0 ppm","5.0 ppm","10 ppm","Experimental data"],"orient":"none","legendX":51.7,"legendY":-46.8,"direction":"horizontal","columns":6,"title":null,"symbolType":"stroke","symbolSize":1600,"symbolStrokeWidth":3,"labelFontSize":20,"labelOffset":10,"columnPadding":13.5,"clipHeight":26,"padding":0,"labelColor":"#111","labelLimit":300}}}},
  {"data":{"name":"model"},"transform":[{"filter":"datum.e === 'La'"}],"mark":{"type":"point","filled":true,"opacity":1,"strokeWidth":1},
   "encoding":{
    "fill":{"field":"s","type":"nominal","scale":{"domain":["0.1 ppm","0.5 ppm","1.0 ppm","5.0 ppm","10 ppm","Experimental data"],"range":["#3F3F93","#2A9CDA","#8CB04C","#F5E614","#BE1E1E","#FFFFFF"]},"legend":null},
    "stroke":{"field":"s","type":"nominal","scale":{"domain":["0.1 ppm","0.5 ppm","1.0 ppm","5.0 ppm","10 ppm","Experimental data","~~"],"range":["#26265E","#1F4F7F","#4E6A24","#B8772F","#5C0B0B","#000000","#000000"]},"legend":null},
    "shape":{"field":"s","type":"nominal","scale":{"domain":["0.1 ppm","0.5 ppm","1.0 ppm","5.0 ppm","10 ppm","Experimental data","~"],"range":["diamond","square","triangle-up","square","diamond","square","circle"]},"legend":null},
    "size":{"field":"s","type":"nominal","scale":{"type":"ordinal","domain":["0.1 ppm","0.5 ppm","1.0 ppm","5.0 ppm","10 ppm","Experimental data","--"],"range":[70,90,100,150,80,170,10]},"legend":null}}},
  {"data":{"name":"exp"},"transform":[{"filter":"datum.e === 'La'"}],"mark":{"type":"line","strokeWidth":2.5},
   "encoding":{"color":{"field":"s","type":"nominal","scale":{"domain":["0.1 ppm","0.5 ppm","1.0 ppm","5.0 ppm","10 ppm","Experimental data","-"],"range":["#7030A0","#22B0EA","#2BA84A","#FFC000","#E52421","#000000","#999999"]}},"detail":{"field":"g"}}},
  {"data":{"name":"exp"},"transform":[{"filter":"datum.e === 'La'"}],"mark":{"type":"point","filled":true,"opacity":1,"strokeWidth":1},
   "encoding":{"fill":{"field":"s","type":"nominal","scale":{"domain":["0.1 ppm","0.5 ppm","1.0 ppm","5.0 ppm","10 ppm","Experimental data"],"range":["#3F3F93","#2A9CDA","#8CB04C","#F5E614","#BE1E1E","#FFFFFF"]},"legend":null},
    "stroke":{"field":"s","type":"nominal","scale":{"domain":["0.1 ppm","0.5 ppm","1.0 ppm","5.0 ppm","10 ppm","Experimental data","~~"],"range":["#26265E","#1F4F7F","#4E6A24","#B8772F","#5C0B0B","#000000","#000000"]},"legend":null},
    "shape":{"field":"s","type":"nominal","scale":{"domain":["0.1 ppm","0.5 ppm","1.0 ppm","5.0 ppm","10 ppm","Experimental data","~"],"range":["diamond","square","triangle-up","square","diamond","square","circle"]},"legend":null},
    "size":{"field":"s","type":"nominal","scale":{"type":"ordinal","domain":["0.1 ppm","0.5 ppm","1.0 ppm","5.0 ppm","10 ppm","Experimental data","--"],"range":[70,90,100,150,80,170,10]},"legend":null}}},
  {"data":{"name":"lab"},"transform":[{"filter":"datum.e === 'La'"}],"mark":{"type":"text","align":"right","baseline":"middle","fontSize":19,"fontWeight":"bold","color":"#000"},"encoding":{"text":{"field":"e"}}}
 ]},
{"width": 431, "height": 273.5,
 "encoding": {"x": {"field":"x","type":"quantitative","scale":{"domain":[0.5,3.5],"nice":false,"zero":false},"axis":{"values":[0.5,1,1.5,2,2.5,3,3.5],"format":"~g","title":null}},
  "y": {"field":"y","type":"quantitative","scale":{"domain":[0,100],"nice":false},"axis":{"values":[0,10,20,30,40,50,60,70,80,90,100],"labelExpr":"datum.value % 20 === 0 ? datum.label : ''","title":null}}},
 "layer": [
  {"data":{"name":"model"},"transform":[{"filter":"datum.e === 'Ce'"}],"mark":{"type":"line","strokeWidth":3},
   "encoding":{"color":{"field":"s","type":"nominal","scale":{"domain":["0.1 ppm","0.5 ppm","1.0 ppm","5.0 ppm","10 ppm","Experimental data","-"],"range":["#7030A0","#22B0EA","#2BA84A","#FFC000","#E52421","#000000","#999999"]}}}},
  {"data":{"name":"model"},"transform":[{"filter":"datum.e === 'Ce'"}],"mark":{"type":"point","filled":true,"opacity":1,"strokeWidth":1},
   "encoding":{"fill":{"field":"s","type":"nominal","scale":{"domain":["0.1 ppm","0.5 ppm","1.0 ppm","5.0 ppm","10 ppm","Experimental data"],"range":["#3F3F93","#2A9CDA","#8CB04C","#F5E614","#BE1E1E","#FFFFFF"]},"legend":null},
    "stroke":{"field":"s","type":"nominal","scale":{"domain":["0.1 ppm","0.5 ppm","1.0 ppm","5.0 ppm","10 ppm","Experimental data","~~"],"range":["#26265E","#1F4F7F","#4E6A24","#B8772F","#5C0B0B","#000000","#000000"]},"legend":null},
    "shape":{"field":"s","type":"nominal","scale":{"domain":["0.1 ppm","0.5 ppm","1.0 ppm","5.0 ppm","10 ppm","Experimental data","~"],"range":["diamond","square","triangle-up","square","diamond","square","circle"]},"legend":null},
    "size":{"field":"s","type":"nominal","scale":{"type":"ordinal","domain":["0.1 ppm","0.5 ppm","1.0 ppm","5.0 ppm","10 ppm","Experimental data","--"],"range":[70,90,100,150,80,170,10]},"legend":null}}},
  {"data":{"name":"exp"},"transform":[{"filter":"datum.e === 'Ce'"}],"mark":{"type":"line","strokeWidth":2.5},
   "encoding":{"color":{"field":"s","type":"nominal","scale":{"domain":["0.1 ppm","0.5 ppm","1.0 ppm","5.0 ppm","10 ppm","Experimental data","-"],"range":["#7030A0","#22B0EA","#2BA84A","#FFC000","#E52421","#000000","#999999"]}},"detail":{"field":"g"}}},
  {"data":{"name":"exp"},"transform":[{"filter":"datum.e === 'Ce'"}],"mark":{"type":"point","filled":true,"opacity":1,"strokeWidth":1},
   "encoding":{"fill":{"field":"s","type":"nominal","scale":{"domain":["0.1 ppm","0.5 ppm","1.0 ppm","5.0 ppm","10 ppm","Experimental data"],"range":["#3F3F93","#2A9CDA","#8CB04C","#F5E614","#BE1E1E","#FFFFFF"]},"legend":null},
    "stroke":{"field":"s","type":"nominal","scale":{"domain":["0.1 ppm","0.5 ppm","1.0 ppm","5.0 ppm","10 ppm","Experimental data","~~"],"range":["#26265E","#1F4F7F","#4E6A24","#B8772F","#5C0B0B","#000000","#000000"]},"legend":null},
    "shape":{"field":"s","type":"nominal","scale":{"domain":["0.1 ppm","0.5 ppm","1.0 ppm","5.0 ppm","10 ppm","Experimental data","~"],"range":["diamond","square","triangle-up","square","diamond","square","circle"]},"legend":null},
    "size":{"field":"s","type":"nominal","scale":{"type":"ordinal","domain":["0.1 ppm","0.5 ppm","1.0 ppm","5.0 ppm","10 ppm","Experimental data","--"],"range":[70,90,100,150,80,170,10]},"legend":null}}},
  {"data":{"name":"lab"},"transform":[{"filter":"datum.e === 'Ce'"}],"mark":{"type":"text","align":"right","baseline":"middle","fontSize":19,"fontWeight":"bold","color":"#000"},"encoding":{"text":{"field":"e"}}}
 ]},
{"width": 463, "height": 273.5,
 "encoding": {"x": {"field":"x","type":"quantitative","scale":{"domain":[0.5,3.5],"nice":false,"zero":false},"axis":{"values":[0.5,1,1.5,2,2.5,3,3.5],"format":"~g","title":null}},
  "y": {"field":"y","type":"quantitative","scale":{"domain":[0,100],"nice":false},"axis":{"values":[0,10,20,30,40,50,60,70,80,90,100],"labelExpr":"datum.value % 20 === 0 ? datum.label : ''","title":null}}},
 "layer": [
  {"data":{"name":"model"},"transform":[{"filter":"datum.e === 'Sm'"}],"mark":{"type":"line","strokeWidth":3},
   "encoding":{"color":{"field":"s","type":"nominal","scale":{"domain":["0.1 ppm","0.5 ppm","1.0 ppm","5.0 ppm","10 ppm","Experimental data","-"],"range":["#7030A0","#22B0EA","#2BA84A","#FFC000","#E52421","#000000","#999999"]}}}},
  {"data":{"name":"model"},"transform":[{"filter":"datum.e === 'Sm'"}],"mark":{"type":"point","filled":true,"opacity":1,"strokeWidth":1},
   "encoding":{"fill":{"field":"s","type":"nominal","scale":{"domain":["0.1 ppm","0.5 ppm","1.0 ppm","5.0 ppm","10 ppm","Experimental data"],"range":["#3F3F93","#2A9CDA","#8CB04C","#F5E614","#BE1E1E","#FFFFFF"]},"legend":null},
    "stroke":{"field":"s","type":"nominal","scale":{"domain":["0.1 ppm","0.5 ppm","1.0 ppm","5.0 ppm","10 ppm","Experimental data","~~"],"range":["#26265E","#1F4F7F","#4E6A24","#B8772F","#5C0B0B","#000000","#000000"]},"legend":null},
    "shape":{"field":"s","type":"nominal","scale":{"domain":["0.1 ppm","0.5 ppm","1.0 ppm","5.0 ppm","10 ppm","Experimental data","~"],"range":["diamond","square","triangle-up","square","diamond","square","circle"]},"legend":null},
    "size":{"field":"s","type":"nominal","scale":{"type":"ordinal","domain":["0.1 ppm","0.5 ppm","1.0 ppm","5.0 ppm","10 ppm","Experimental data","--"],"range":[70,90,100,150,80,170,10]},"legend":null}}},
  {"data":{"name":"exp"},"transform":[{"filter":"datum.e === 'Sm'"}],"mark":{"type":"line","strokeWidth":2.5},
   "encoding":{"color":{"field":"s","type":"nominal","scale":{"domain":["0.1 ppm","0.5 ppm","1.0 ppm","5.0 ppm","10 ppm","Experimental data","-"],"range":["#7030A0","#22B0EA","#2BA84A","#FFC000","#E52421","#000000","#999999"]}},"detail":{"field":"g"}}},
  {"data":{"name":"exp"},"transform":[{"filter":"datum.e === 'Sm'"}],"mark":{"type":"point","filled":true,"opacity":1,"strokeWidth":1},
   "encoding":{"fill":{"field":"s","type":"nominal","scale":{"domain":["0.1 ppm","0.5 ppm","1.0 ppm","5.0 ppm","10 ppm","Experimental data"],"range":["#3F3F93","#2A9CDA","#8CB04C","#F5E614","#BE1E1E","#FFFFFF"]},"legend":null},
    "stroke":{"field":"s","type":"nominal","scale":{"domain":["0.1 ppm","0.5 ppm","1.0 ppm","5.0 ppm","10 ppm","Experimental data","~~"],"range":["#26265E","#1F4F7F","#4E6A24","#B8772F","#5C0B0B","#000000","#000000"]},"legend":null},
    "shape":{"field":"s","type":"nominal","scale":{"domain":["0.1 ppm","0.5 ppm","1.0 ppm","5.0 ppm","10 ppm","Experimental data","~"],"range":["diamond","square","triangle-up","square","diamond","square","circle"]},"legend":null},
    "size":{"field":"s","type":"nominal","scale":{"type":"ordinal","domain":["0.1 ppm","0.5 ppm","1.0 ppm","5.0 ppm","10 ppm","Experimental data","--"],"range":[70,90,100,150,80,170,10]},"legend":null}}},
  {"data":{"name":"lab"},"transform":[{"filter":"datum.e === 'Sm'"}],"mark":{"type":"text","align":"right","baseline":"middle","fontSize":19,"fontWeight":"bold","color":"#000"},"encoding":{"text":{"field":"e"}}}
 ]},
{"width": 431, "height": 273.5,
 "encoding": {"x": {"field":"x","type":"quantitative","scale":{"domain":[0.5,3.5],"nice":false,"zero":false},"axis":{"values":[0.5,1,1.5,2,2.5,3,3.5],"format":"~g","title":null}},
  "y": {"field":"y","type":"quantitative","scale":{"domain":[0,100],"nice":false},"axis":{"values":[0,10,20,30,40,50,60,70,80,90,100],"labelExpr":"datum.value % 20 === 0 ? datum.label : ''","title":null}}},
 "layer": [
  {"data":{"name":"model"},"transform":[{"filter":"datum.e === 'Tb'"}],"mark":{"type":"line","strokeWidth":3},
   "encoding":{"color":{"field":"s","type":"nominal","scale":{"domain":["0.1 ppm","0.5 ppm","1.0 ppm","5.0 ppm","10 ppm","Experimental data","-"],"range":["#7030A0","#22B0EA","#2BA84A","#FFC000","#E52421","#000000","#999999"]}}}},
  {"data":{"name":"model"},"transform":[{"filter":"datum.e === 'Tb'"}],"mark":{"type":"point","filled":true,"opacity":1,"strokeWidth":1},
   "encoding":{"fill":{"field":"s","type":"nominal","scale":{"domain":["0.1 ppm","0.5 ppm","1.0 ppm","5.0 ppm","10 ppm","Experimental data"],"range":["#3F3F93","#2A9CDA","#8CB04C","#F5E614","#BE1E1E","#FFFFFF"]},"legend":null},
    "stroke":{"field":"s","type":"nominal","scale":{"domain":["0.1 ppm","0.5 ppm","1.0 ppm","5.0 ppm","10 ppm","Experimental data","~~"],"range":["#26265E","#1F4F7F","#4E6A24","#B8772F","#5C0B0B","#000000","#000000"]},"legend":null},
    "shape":{"field":"s","type":"nominal","scale":{"domain":["0.1 ppm","0.5 ppm","1.0 ppm","5.0 ppm","10 ppm","Experimental data","~"],"range":["diamond","square","triangle-up","square","diamond","square","circle"]},"legend":null},
    "size":{"field":"s","type":"nominal","scale":{"type":"ordinal","domain":["0.1 ppm","0.5 ppm","1.0 ppm","5.0 ppm","10 ppm","Experimental data","--"],"range":[70,90,100,150,80,170,10]},"legend":null}}},
  {"data":{"name":"exp"},"transform":[{"filter":"datum.e === 'Tb'"}],"mark":{"type":"line","strokeWidth":2.5},
   "encoding":{"color":{"field":"s","type":"nominal","scale":{"domain":["0.1 ppm","0.5 ppm","1.0 ppm","5.0 ppm","10 ppm","Experimental data","-"],"range":["#7030A0","#22B0EA","#2BA84A","#FFC000","#E52421","#000000","#999999"]}},"detail":{"field":"g"}}},
  {"data":{"name":"exp"},"transform":[{"filter":"datum.e === 'Tb'"}],"mark":{"type":"point","filled":true,"opacity":1,"strokeWidth":1},
   "encoding":{"fill":{"field":"s","type":"nominal","scale":{"domain":["0.1 ppm","0.5 ppm","1.0 ppm","5.0 ppm","10 ppm","Experimental data"],"range":["#3F3F93","#2A9CDA","#8CB04C","#F5E614","#BE1E1E","#FFFFFF"]},"legend":null},
    "stroke":{"field":"s","type":"nominal","scale":{"domain":["0.1 ppm","0.5 ppm","1.0 ppm","5.0 ppm","10 ppm","Experimental data","~~"],"range":["#26265E","#1F4F7F","#4E6A24","#B8772F","#5C0B0B","#000000","#000000"]},"legend":null},
    "shape":{"field":"s","type":"nominal","scale":{"domain":["0.1 ppm","0.5 ppm","1.0 ppm","5.0 ppm","10 ppm","Experimental data","~"],"range":["diamond","square","triangle-up","square","diamond","square","circle"]},"legend":null},
    "size":{"field":"s","type":"nominal","scale":{"type":"ordinal","domain":["0.1 ppm","0.5 ppm","1.0 ppm","5.0 ppm","10 ppm","Experimental data","--"],"range":[70,90,100,150,80,170,10]},"legend":null}}},
  {"data":{"name":"lab"},"transform":[{"filter":"datum.e === 'Tb'"}],"mark":{"type":"text","align":"right","baseline":"middle","fontSize":19,"fontWeight":"bold","color":"#000"},"encoding":{"text":{"field":"e"}}}
 ]},
{"width": 463, "height": 274,
 "encoding": {"x": {"field":"x","type":"quantitative","scale":{"domain":[0.5,3.5],"nice":false,"zero":false},"axis":{"values":[0.5,1,1.5,2,2.5,3,3.5],"format":"~g","title":"pH"}},
  "y": {"field":"y","type":"quantitative","scale":{"domain":[0,100],"nice":false},"axis":{"values":[0,10,20,30,40,50,60,70,80,90,100],"labelExpr":"datum.value % 20 === 0 ? datum.label : ''","title":null}}},
 "layer": [
  {"data":{"name":"model"},"transform":[{"filter":"datum.e === 'Er'"}],"mark":{"type":"line","strokeWidth":3},
   "encoding":{"color":{"field":"s","type":"nominal","scale":{"domain":["0.1 ppm","0.5 ppm","1.0 ppm","5.0 ppm","10 ppm","Experimental data","-"],"range":["#7030A0","#22B0EA","#2BA84A","#FFC000","#E52421","#000000","#999999"]}}}},
  {"data":{"name":"model"},"transform":[{"filter":"datum.e === 'Er'"}],"mark":{"type":"point","filled":true,"opacity":1,"strokeWidth":1},
   "encoding":{"fill":{"field":"s","type":"nominal","scale":{"domain":["0.1 ppm","0.5 ppm","1.0 ppm","5.0 ppm","10 ppm","Experimental data"],"range":["#3F3F93","#2A9CDA","#8CB04C","#F5E614","#BE1E1E","#FFFFFF"]},"legend":null},
    "stroke":{"field":"s","type":"nominal","scale":{"domain":["0.1 ppm","0.5 ppm","1.0 ppm","5.0 ppm","10 ppm","Experimental data","~~"],"range":["#26265E","#1F4F7F","#4E6A24","#B8772F","#5C0B0B","#000000","#000000"]},"legend":null},
    "shape":{"field":"s","type":"nominal","scale":{"domain":["0.1 ppm","0.5 ppm","1.0 ppm","5.0 ppm","10 ppm","Experimental data","~"],"range":["diamond","square","triangle-up","square","diamond","square","circle"]},"legend":null},
    "size":{"field":"s","type":"nominal","scale":{"type":"ordinal","domain":["0.1 ppm","0.5 ppm","1.0 ppm","5.0 ppm","10 ppm","Experimental data","--"],"range":[70,90,100,150,80,170,10]},"legend":null}}},
  {"data":{"name":"exp"},"transform":[{"filter":"datum.e === 'Er'"}],"mark":{"type":"line","strokeWidth":2.5},
   "encoding":{"color":{"field":"s","type":"nominal","scale":{"domain":["0.1 ppm","0.5 ppm","1.0 ppm","5.0 ppm","10 ppm","Experimental data","-"],"range":["#7030A0","#22B0EA","#2BA84A","#FFC000","#E52421","#000000","#999999"]}},"detail":{"field":"g"}}},
  {"data":{"name":"exp"},"transform":[{"filter":"datum.e === 'Er'"}],"mark":{"type":"point","filled":true,"opacity":1,"strokeWidth":1},
   "encoding":{"fill":{"field":"s","type":"nominal","scale":{"domain":["0.1 ppm","0.5 ppm","1.0 ppm","5.0 ppm","10 ppm","Experimental data"],"range":["#3F3F93","#2A9CDA","#8CB04C","#F5E614","#BE1E1E","#FFFFFF"]},"legend":null},
    "stroke":{"field":"s","type":"nominal","scale":{"domain":["0.1 ppm","0.5 ppm","1.0 ppm","5.0 ppm","10 ppm","Experimental data","~~"],"range":["#26265E","#1F4F7F","#4E6A24","#B8772F","#5C0B0B","#000000","#000000"]},"legend":null},
    "shape":{"field":"s","type":"nominal","scale":{"domain":["0.1 ppm","0.5 ppm","1.0 ppm","5.0 ppm","10 ppm","Experimental data","~"],"range":["diamond","square","triangle-up","square","diamond","square","circle"]},"legend":null},
    "size":{"field":"s","type":"nominal","scale":{"type":"ordinal","domain":["0.1 ppm","0.5 ppm","1.0 ppm","5.0 ppm","10 ppm","Experimental data","--"],"range":[70,90,100,150,80,170,10]},"legend":null}}},
  {"data":{"name":"lab"},"transform":[{"filter":"datum.e === 'Er'"}],"mark":{"type":"text","align":"right","baseline":"middle","fontSize":19,"fontWeight":"bold","color":"#000"},"encoding":{"text":{"field":"e"}}}
 ]},
{"width": 431, "height": 274,
 "encoding": {"x": {"field":"x","type":"quantitative","scale":{"domain":[0.5,3.5],"nice":false,"zero":false},"axis":{"values":[0.5,1,1.5,2,2.5,3,3.5],"format":"~g","title":"pH"}},
  "y": {"field":"y","type":"quantitative","scale":{"domain":[0,100],"nice":false},"axis":{"values":[0,10,20,30,40,50,60,70,80,90,100],"labelExpr":"datum.value % 20 === 0 ? datum.label : ''","title":null}}},
 "layer": [
  {"data":{"name":"model"},"transform":[{"filter":"datum.e === 'Lu'"}],"mark":{"type":"line","strokeWidth":3},
   "encoding":{"color":{"field":"s","type":"nominal","scale":{"domain":["0.1 ppm","0.5 ppm","1.0 ppm","5.0 ppm","10 ppm","Experimental data","-"],"range":["#7030A0","#22B0EA","#2BA84A","#FFC000","#E52421","#000000","#999999"]}}}},
  {"data":{"name":"model"},"transform":[{"filter":"datum.e === 'Lu'"}],"mark":{"type":"point","filled":true,"opacity":1,"strokeWidth":1},
   "encoding":{"fill":{"field":"s","type":"nominal","scale":{"domain":["0.1 ppm","0.5 ppm","1.0 ppm","5.0 ppm","10 ppm","Experimental data"],"range":["#3F3F93","#2A9CDA","#8CB04C","#F5E614","#BE1E1E","#FFFFFF"]},"legend":null},
    "stroke":{"field":"s","type":"nominal","scale":{"domain":["0.1 ppm","0.5 ppm","1.0 ppm","5.0 ppm","10 ppm","Experimental data","~~"],"range":["#26265E","#1F4F7F","#4E6A24","#B8772F","#5C0B0B","#000000","#000000"]},"legend":null},
    "shape":{"field":"s","type":"nominal","scale":{"domain":["0.1 ppm","0.5 ppm","1.0 ppm","5.0 ppm","10 ppm","Experimental data","~"],"range":["diamond","square","triangle-up","square","diamond","square","circle"]},"legend":null},
    "size":{"field":"s","type":"nominal","scale":{"type":"ordinal","domain":["0.1 ppm","0.5 ppm","1.0 ppm","5.0 ppm","10 ppm","Experimental data","--"],"range":[70,90,100,150,80,170,10]},"legend":null}}},
  {"data":{"name":"exp"},"transform":[{"filter":"datum.e === 'Lu'"}],"mark":{"type":"line","strokeWidth":2.5},
   "encoding":{"color":{"field":"s","type":"nominal","scale":{"domain":["0.1 ppm","0.5 ppm","1.0 ppm","5.0 ppm","10 ppm","Experimental data","-"],"range":["#7030A0","#22B0EA","#2BA84A","#FFC000","#E52421","#000000","#999999"]}},"detail":{"field":"g"}}},
  {"data":{"name":"exp"},"transform":[{"filter":"datum.e === 'Lu'"}],"mark":{"type":"point","filled":true,"opacity":1,"strokeWidth":1},
   "encoding":{"fill":{"field":"s","type":"nominal","scale":{"domain":["0.1 ppm","0.5 ppm","1.0 ppm","5.0 ppm","10 ppm","Experimental data"],"range":["#3F3F93","#2A9CDA","#8CB04C","#F5E614","#BE1E1E","#FFFFFF"]},"legend":null},
    "stroke":{"field":"s","type":"nominal","scale":{"domain":["0.1 ppm","0.5 ppm","1.0 ppm","5.0 ppm","10 ppm","Experimental data","~~"],"range":["#26265E","#1F4F7F","#4E6A24","#B8772F","#5C0B0B","#000000","#000000"]},"legend":null},
    "shape":{"field":"s","type":"nominal","scale":{"domain":["0.1 ppm","0.5 ppm","1.0 ppm","5.0 ppm","10 ppm","Experimental data","~"],"range":["diamond","square","triangle-up","square","diamond","square","circle"]},"legend":null},
    "size":{"field":"s","type":"nominal","scale":{"type":"ordinal","domain":["0.1 ppm","0.5 ppm","1.0 ppm","5.0 ppm","10 ppm","Experimental data","--"],"range":[70,90,100,150,80,170,10]},"legend":null}}},
  {"data":{"name":"lab"},"transform":[{"filter":"datum.e === 'Lu'"}],"mark":{"type":"text","align":"right","baseline":"middle","fontSize":19,"fontWeight":"bold","color":"#000"},"encoding":{"text":{"field":"e"}}}
 ]}
],
"config": {
 "font": "Open Sans",
 "view": {"stroke": null},
 "axis": {"labelFont": "Open Sans", "labelFontSize": 15, "labelColor": "#1a1a1a", "domainColor": "#8c8c8c", "tickColor": "#8c8c8c", "tickSize": 5, "gridColor": "#b4b4b4", "titleFont": "Open Sans", "titleFontSize": 21, "titleFontWeight": "bold", "titleColor": "#000", "labelPadding": 5, "titlePadding": 8},
 "axisX": {"grid": false, "labelFlush": false},
 "axisY": {"grid": true, "labelPadding": 5},
 "legend": {"labelFont": "Open Sans", "labelFontSize": 20, "labelColor": "#111"}
}
}
